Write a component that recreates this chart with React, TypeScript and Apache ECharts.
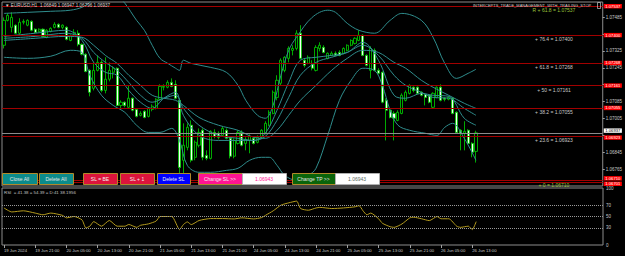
import React, { useEffect, useRef } from "react";
import * as echarts from "echarts";

// ---------- data ----------
const SLOT_COUNT = 154; // bars + empty right shift area
const TICK_STEP = 8;
const timeTickLabels = [
  "19 Jun 2024", "19 Jun 21:00", "20 Jun 05:00", "20 Jun 13:00", "20 Jun 21:00",
  "21 Jun 05:00", "21 Jun 13:00", "21 Jun 21:00", "24 Jun 05:00", "24 Jun 13:00",
  "24 Jun 21:00", "25 Jun 05:00", "25 Jun 13:00", "25 Jun 21:00", "26 Jun 05:00",
  "26 Jun 13:00",
];

// [open, close, low, high]
const candles = [
  [1.07352, 1.0747, 1.07337, 1.07484], [1.0747, 1.07494, 1.07465, 1.07503], [1.07437, 1.07484, 1.07413, 1.07508],
  [1.07447, 1.07409, 1.07404, 1.07451], [1.07409, 1.07461, 1.07404, 1.0748], [1.07461, 1.07465, 1.07451, 1.07475],
  [1.07447, 1.0747, 1.07442, 1.07475], [1.07465, 1.07423, 1.07418, 1.0747], [1.07428, 1.07413, 1.07409, 1.07432],
  [1.07418, 1.07428, 1.07413, 1.07432], [1.07428, 1.07394, 1.0739, 1.07432], [1.0739, 1.07423, 1.07385, 1.07428],
  [1.07418, 1.07432, 1.07413, 1.07437], [1.07437, 1.07451, 1.07432, 1.07461], [1.07451, 1.07437, 1.07432, 1.07456],
  [1.07437, 1.07447, 1.07428, 1.07451], [1.07437, 1.0738, 1.07375, 1.07442], [1.07375, 1.07399, 1.07371, 1.07404],
  [1.07399, 1.07413, 1.07394, 1.07428], [1.07409, 1.07356, 1.07347, 1.07423], [1.07356, 1.07309, 1.07304, 1.07361],
  [1.07309, 1.07228, 1.07224, 1.07314], [1.07233, 1.07129, 1.0711, 1.07238], [1.07148, 1.07233, 1.07138, 1.07271],
  [1.07233, 1.07271, 1.07228, 1.07304], [1.07271, 1.07138, 1.07129, 1.07281], [1.07138, 1.07191, 1.07124, 1.07295],
  [1.07191, 1.07233, 1.07181, 1.07271], [1.07224, 1.07243, 1.07195, 1.07252], [1.07243, 1.07067, 1.07063, 1.07247],
  [1.07067, 1.07082, 1.07048, 1.07091], [1.07082, 1.07067, 1.07058, 1.07086], [1.07058, 1.07101, 1.07053, 1.07162],
  [1.07101, 1.07044, 1.07039, 1.07105], [1.07048, 1.07015, 1.0701, 1.07053], [1.0702, 1.07029, 1.07015, 1.07039],
  [1.07039, 1.0701, 1.07006, 1.07044], [1.07015, 1.07053, 1.0701, 1.07058], [1.07048, 1.07063, 1.07039, 1.07072],
  [1.07053, 1.07096, 1.07048, 1.07101], [1.07096, 1.07157, 1.07091, 1.07167], [1.07153, 1.07157, 1.07138, 1.07167],
  [1.07153, 1.07176, 1.07148, 1.07186], [1.07176, 1.07157, 1.07153, 1.07195], [1.07167, 1.07101, 1.07096, 1.07186],
  [1.07091, 1.06773, 1.06735, 1.07101], [1.06807, 1.06878, 1.06735, 1.06982], [1.06868, 1.06963, 1.06854, 1.06982],
  [1.06973, 1.06807, 1.06797, 1.06996], [1.06821, 1.06892, 1.06807, 1.06901], [1.06878, 1.06939, 1.06868, 1.06958],
  [1.06949, 1.06821, 1.06807, 1.06958], [1.0683, 1.06816, 1.06807, 1.06854], [1.06816, 1.06944, 1.06811, 1.06949],
  [1.06939, 1.0692, 1.06911, 1.06954], [1.06935, 1.06916, 1.06906, 1.06944], [1.06925, 1.06958, 1.0692, 1.06968],
  [1.06949, 1.06911, 1.06906, 1.06958], [1.06911, 1.06826, 1.06816, 1.0692], [1.06826, 1.06901, 1.06816, 1.06911],
  [1.06887, 1.06939, 1.06882, 1.06949], [1.06939, 1.06878, 1.06873, 1.06949], [1.06887, 1.06906, 1.06854, 1.06916],
  [1.06901, 1.0692, 1.0684, 1.0693], [1.06911, 1.06887, 1.06882, 1.0692], [1.06892, 1.06916, 1.06887, 1.06925],
  [1.06916, 1.06949, 1.06911, 1.06954], [1.06935, 1.06982, 1.0693, 1.06992], [1.06973, 1.07034, 1.06968, 1.07044],
  [1.07029, 1.07129, 1.07025, 1.07138], [1.07105, 1.07186, 1.07091, 1.0721], [1.07172, 1.07281, 1.07162, 1.0729],
  [1.07233, 1.07295, 1.07224, 1.073], [1.0729, 1.07337, 1.07271, 1.07347], [1.07328, 1.07337, 1.07304, 1.07352],
  [1.07337, 1.07409, 1.07328, 1.07423], [1.07409, 1.0729, 1.07285, 1.07447], [1.07281, 1.07257, 1.07247, 1.0729],
  [1.07266, 1.07295, 1.07262, 1.07304], [1.07266, 1.07243, 1.07233, 1.07281], [1.07233, 1.07342, 1.07228, 1.07352],
  [1.07337, 1.07352, 1.07323, 1.07366], [1.07342, 1.07318, 1.07314, 1.07352], [1.0729, 1.07314, 1.07285, 1.07318],
  [1.07304, 1.07314, 1.073, 1.07323], [1.07314, 1.07304, 1.073, 1.07323], [1.07318, 1.07304, 1.073, 1.07328],
  [1.07314, 1.07337, 1.07309, 1.07342], [1.07328, 1.07352, 1.07323, 1.07356], [1.07352, 1.07375, 1.07347, 1.0738],
  [1.07361, 1.07385, 1.07356, 1.0739], [1.07375, 1.07399, 1.07371, 1.07423], [1.07399, 1.07304, 1.073, 1.07404],
  [1.07304, 1.07257, 1.07252, 1.07309], [1.07233, 1.07337, 1.07195, 1.07347], [1.07328, 1.07233, 1.07228, 1.07337],
  [1.07233, 1.07219, 1.07214, 1.07243], [1.07224, 1.07082, 1.07077, 1.07228], [1.07091, 1.07044, 1.06901, 1.07101],
  [1.07044, 1.0701, 1.07006, 1.07053], [1.07029, 1.07006, 1.06901, 1.07039], [1.06996, 1.07034, 1.06992, 1.07044],
  [1.07029, 1.07115, 1.07025, 1.07124], [1.07091, 1.07129, 1.07086, 1.07138], [1.07124, 1.07162, 1.07119, 1.07167],
  [1.07153, 1.07138, 1.07129, 1.07157], [1.07153, 1.07124, 1.07119, 1.07157], [1.07129, 1.07115, 1.0711, 1.07134],
  [1.07119, 1.07105, 1.07067, 1.07124], [1.07115, 1.07082, 1.07077, 1.07119], [1.07058, 1.07124, 1.07053, 1.07129],
  [1.07105, 1.07153, 1.07101, 1.07157], [1.07153, 1.07091, 1.07086, 1.07167], [1.07101, 1.07096, 1.07086, 1.07105],
  [1.07096, 1.07105, 1.07091, 1.0711], [1.07101, 1.07029, 1.07025, 1.07105], [1.07034, 1.06939, 1.06935, 1.07039],
  [1.06949, 1.06935, 1.06854, 1.06954], [1.06935, 1.06944, 1.06854, 1.06992], [1.06949, 1.06887, 1.06882, 1.06954],
  [1.06887, 1.06845, 1.06821, 1.06892], [1.06849, 1.06937, 1.06796, 1.06947],
];

// indicator lines, [bar index, price]
const upperBand = [
  [0, 1.07503], [6, 1.07508], [12, 1.07513], [17, 1.07518], [20, 1.07532], [22, 1.07556], [24, 1.07603],
  [27, 1.07622], [29, 1.07589], [31, 1.07551], [34, 1.0747], [36, 1.07423], [38, 1.07352], [40, 1.0729],
  [42, 1.07266], [44, 1.07243], [45, 1.07233], [46, 1.07281], [48, 1.07266], [53, 1.07247], [57, 1.07224],
  [60, 1.07162], [62, 1.07091], [65, 1.0702], [67, 1.07006], [69, 1.07067], [71, 1.0721], [73, 1.07328],
  [75, 1.0739], [79, 1.07484], [83, 1.07518], [85, 1.07508], [88, 1.07456], [91, 1.07423], [95, 1.07409],
  [99, 1.0747], [102, 1.07503], [107, 1.0747], [110, 1.0739], [113, 1.07266], [116, 1.07195], [119, 1.07219],
  [121, 1.07238],
];
const lowerBand = [
  [0, 1.07295], [6, 1.0729], [12, 1.073], [17, 1.07328], [20, 1.07318], [22, 1.0721], [25, 1.07115],
  [28, 1.07067], [31, 1.07034], [34, 1.06973], [37, 1.06939], [40, 1.06939], [43, 1.06958], [45, 1.06901],
  [47, 1.06783], [50, 1.0675], [53, 1.0675], [57, 1.06759], [60, 1.06769], [63, 1.06807], [66, 1.06821],
  [68, 1.06821], [70, 1.06783], [72, 1.06735], [75, 1.06712], [78, 1.06735], [80, 1.06769], [83, 1.06925],
  [86, 1.07091], [89, 1.07186], [92, 1.07243], [95, 1.07233], [97, 1.07162], [99, 1.07044], [101, 1.06973],
  [104, 1.06949], [108, 1.06935], [111, 1.06925], [113, 1.06963], [115, 1.06982], [118, 1.06911], [121, 1.06807],
];
const middleBand = [
  [0, 1.07375], [8, 1.07385], [16, 1.07394], [20, 1.0739], [23, 1.07352], [26, 1.07304], [29, 1.07266],
  [32, 1.0721], [35, 1.07162], [38, 1.07115], [41, 1.07101], [44, 1.07091], [46, 1.07067], [50, 1.0701],
  [55, 1.06973], [60, 1.06949], [64, 1.06916], [67, 1.06911], [70, 1.06949], [73, 1.0702], [76, 1.07091],
  [80, 1.07162], [84, 1.07233], [88, 1.0729], [92, 1.07328], [96, 1.07318], [100, 1.07271], [103, 1.07243],
  [107, 1.07186], [110, 1.07153], [114, 1.07115], [118, 1.07077], [121, 1.07053],
];
const maMedium = [
  [0, 1.07385], [8, 1.07394], [16, 1.07409], [20, 1.07385], [23, 1.07318], [26, 1.07271], [29, 1.07233],
  [32, 1.07176], [35, 1.07115], [38, 1.07082], [41, 1.07101], [44, 1.07115], [46, 1.07053], [50, 1.06973],
  [55, 1.06925], [60, 1.06911], [64, 1.06901], [67, 1.0692], [70, 1.06996], [73, 1.07105], [76, 1.0721],
  [80, 1.07271], [84, 1.07295], [88, 1.07318], [92, 1.07352], [96, 1.07304], [100, 1.0721], [103, 1.07162],
  [107, 1.07129], [110, 1.07105], [114, 1.07101], [118, 1.07053], [121, 1.0702],
];
const maFast = [
  [0, 1.07394], [8, 1.07409], [16, 1.07423], [20, 1.07375], [23, 1.07271], [26, 1.07224], [29, 1.0721],
  [32, 1.07138], [35, 1.07082], [38, 1.07053], [41, 1.07101], [44, 1.07129], [46, 1.0702], [50, 1.06925],
  [55, 1.06901], [60, 1.06901], [64, 1.06901], [67, 1.06935], [70, 1.07044], [73, 1.07176], [76, 1.07281],
  [80, 1.07295], [84, 1.07304], [88, 1.07318], [92, 1.07366], [96, 1.07281], [100, 1.07115], [103, 1.07101],
  [107, 1.07124], [110, 1.07115], [114, 1.0711], [118, 1.07006], [121, 1.06973],
];

const rsiPoints = [
  [0, 65], [2, 58], [5, 60], [8, 56], [10, 53], [12, 56], [15, 52], [16, 47.6], [18, 50], [20, 44], [21, 30],
  [22, 33], [23, 41], [25, 33], [27, 43], [29, 33], [31, 33], [32, 36], [34, 31], [35, 34.6], [37, 37], [39, 42],
  [40, 50], [43, 50], [45, 27], [46, 36], [47, 40.5], [48, 35.8], [50, 43], [53, 46.4], [56, 46.4], [59, 45.8],
  [61, 47.6], [64, 45.8], [66, 48], [67, 52], [69, 60], [71, 70], [73, 74], [75, 77], [76, 64], [78, 61],
  [80, 65], [81, 66], [84, 64], [87, 65], [90, 67], [91, 69], [92, 60], [93, 53], [94, 56], [96, 46], [97, 38],
  [99, 32], [100, 31], [102, 37], [104, 47.6], [105, 48.7], [107, 46], [109, 42.8], [111, 50], [112, 46],
  [114, 46], [116, 33], [117, 31], [119, 33], [120, 27], [121, 41],
];

const fibLevels = [1.07537, 1.074, 1.07268, 1.07161, 1.07055, 1.06923, 1.0671];
const fibTexts = [
  "R + 61.8 = 1.07537", "+ 76.4 = 1.07400", "+ 61.8 = 1.07268", "+ 50 = 1.07161",
  "+ 38.2 = 1.07055", "+ 23.6 = 1.06923", "+ 0 = 1.06710",
];
const extraRedLevel = 1.06701;
const bidPrice = 1.06937;
const PRICE_MIN = 1.06685;
const PRICE_MAX = 1.07557;
const PRICE_STEP = 0.0008;
const priceTickLabels = [1.06765, 1.06845, 1.07005, 1.07085, 1.07245, 1.07325, 1.07485];
const rsiLevels = [30, 50, 70];
const rsiTickLabels = [0, 30, 50, 70, 100];
const headerText = "\u25BC EURUSD,H1  1.06849 1.06947 1.06796 1.06937";
const rsiHeader = "RSI  = 41.38 = 54.39 = D:41 38.1956";
const eaName = "INTERCEPTS_TRADE_MANAGEMENT_WITH_TRAILING_STOP";

const FONT = "'Liberation Sans', Arial, sans-serif";

export default function App() {
  const ref = useRef<HTMLDivElement>(null);
  useEffect(() => {
    if (!ref.current) return;
    const chart = echarts.init(ref.current, undefined, { renderer: "svg" });
    const categories = Array.from({ length: SLOT_COUNT }, (_, i) => String(i));
    const lastTickIdx = (timeTickLabels.length - 1) * TICK_STEP;
    const tickShown = (idx: number) => idx % TICK_STEP === 0 && idx <= lastTickIdx;
    const bandColor = "#2f8d8d";
    const lineSeries = (data: number[][], extra: any = {}) => ({
      type: "line",
      xAxisIndex: 0,
      yAxisIndex: 0,
      data,
      smooth: 0.35,
      symbol: "none",
      showSymbol: false,
      silent: true,
      z: 4,
      lineStyle: { color: bandColor, width: 1 },
      ...extra,
    });

    const buttons = [
      { t: "Close All", x: 2, w: 35, fill: "#0b8b8b", c: "#e6e6e6", s: "#b08a2a" },
      { t: "Delete All", x: 39, w: 34, fill: "#0b8b8b", c: "#e6e6e6", s: "#b08a2a" },
      { t: "SL = BE", x: 83, w: 34, fill: "#dc143c", c: "#f0f0f0", s: "#b08a2a" },
      { t: "SL + 1", x: 120, w: 34, fill: "#dc143c", c: "#f0f0f0", s: "#b08a2a" },
      { t: "Delete SL", x: 157, w: 33, fill: "#0000ff", c: "#f0f0f0", s: "#b08a2a" },
      { t: "Change SL >>", x: 198, w: 44, fill: "#ff1493", c: "#f0f0f0", s: "#b08a2a" },
      { t: "1.06943", x: 242, w: 44, fill: "#ffffff", c: "#ff1493", s: "#b0b0b0" },
      { t: "Change TP >>", x: 292, w: 43, fill: "#0a640a", c: "#e6e6e6", s: "#b08a2a" },
      { t: "1.06943", x: 335, w: 44, fill: "#ffffff", c: "#5a6a5a", s: "#b0b0b0" },
    ];
    const BY = 173;
    const BH = 11;
    const graphic: any[] = [];
    buttons.forEach((b) => {
      graphic.push({
        type: "rect",
        z: 100,
        shape: { x: b.x + 0.5, y: BY + 0.5, width: b.w, height: BH },
        style: { fill: b.fill, stroke: b.s, lineWidth: 1 },
      });
      graphic.push({
        type: "text",
        z: 101,
        x: b.x + b.w / 2,
        y: BY + BH / 2 + 0.5,
        style: { text: b.t, fill: b.c, fontSize: 5, fontFamily: FONT, align: "center", verticalAlign: "middle" },
      });
    });
    graphic.push({
      type: "text", z: 101, x: 5, y: 5,
      style: { text: headerText, fill: "#d0d0d0", fontSize: 4.6, fontFamily: FONT, verticalAlign: "middle" },
    });
    graphic.push({
      type: "text", z: 101, x: 473, y: 5,
      style: { text: eaName, fill: "#c8c8c8", fontSize: 4.0, fontFamily: FONT, verticalAlign: "middle" },
    });
    graphic.push({
      type: "rect", z: 101, shape: { x: 597.5, y: 2.5, width: 3, height: 6 },
      style: { fill: "none", stroke: "#c8c8c8", lineWidth: 0.7 },
    });
    graphic.push({
      type: "text", z: 101, x: 4, y: 192,
      style: { text: rsiHeader, fill: "#c0c0c0", fontSize: 4.4, fontFamily: FONT, verticalAlign: "middle" },
    });

    const tagLabel = (text: string, bg: string, fg: string, dy = 0) => ({
      show: true, position: "end", distance: 1, formatter: text, color: fg, offset: [0, dy],
      backgroundColor: bg, fontSize: 4.2, fontFamily: FONT, padding: [0, 1.5], lineHeight: 4.4,
    });
    // label nudges keep stacked price tags apart, like the terminal does
    const tagNudge = (v: number) => (v === fibLevels[5] ? 1.8 : v === fibLevels[6] ? -2.4 : v === extraRedLevel ? 1.2 : 0);
    const redLevels = [...fibLevels, extraRedLevel];
    const option: any = {
      animation: false,
      backgroundColor: "#000000",
      textStyle: { fontFamily: FONT },
      grid: [
        { left: 2, top: 2, width: 601, height: 184, show: true, borderColor: "#8c8c8c", borderWidth: 1, backgroundColor: "transparent" },
        { left: 2, top: 188, width: 601, height: 57, show: true, borderColor: "#8c8c8c", borderWidth: 1, backgroundColor: "transparent" },
      ],
      xAxis: [
        {
          type: "category", gridIndex: 0, data: categories, boundaryGap: true,
          axisLine: { show: false }, axisTick: { show: false }, axisLabel: { show: false }, splitLine: { show: false },
        },
        {
          type: "category", gridIndex: 1, data: categories, boundaryGap: true,
          axisLine: { show: false },
          axisTick: { show: true, alignWithLabel: true, interval: tickShown, length: 3, lineStyle: { color: "#a0a0a0" } },
          axisLabel: {
            show: true, interval: tickShown, align: "left", margin: 3, color: "#c8c8c8", fontSize: 4.2, fontFamily: FONT,
            formatter: (_v: string, idx: number) => timeTickLabels[idx / TICK_STEP] ?? "",
          },
          splitLine: { show: false },
        },
      ],
      yAxis: [
        {
          type: "value", gridIndex: 0, position: "right", min: PRICE_MIN, max: PRICE_MAX, interval: PRICE_STEP,
          axisLine: { show: false }, splitLine: { show: false },
          axisTick: { show: true, length: 2, lineStyle: { color: "#a0a0a0" } },
          axisLabel: {
            margin: 3, color: "#c8c8c8", fontSize: 4.5, fontFamily: FONT, showMinLabel: false, showMaxLabel: false,
            formatter: (v: number) => (priceTickLabels.some((p) => Math.abs(p - v) < 1e-7) ? v.toFixed(5) : ""),
          },
        },
        {
          type: "value", gridIndex: 1, position: "right", min: 0, max: 100, interval: 10,
          axisLine: { show: false }, splitLine: { show: false }, axisTick: { show: false },
          axisLabel: {
            margin: 3, color: "#c8c8c8", fontSize: 4.5, fontFamily: FONT, padding: [2, 0, 0, 0],
            formatter: (v: number) => (rsiTickLabels.includes(Math.round(v)) ? String(Math.round(v)) : ""),
          },
        },
      ],
      series: [
        {
          type: "candlestick", xAxisIndex: 0, yAxisIndex: 0, data: candles, barWidth: 2.6, z: 3, silent: true,
          itemStyle: { color: "#000000", color0: "#f2fff2", borderColor: "#00d400", borderColor0: "#00d400", borderWidth: 0.8 },
        },
        lineSeries(upperBand, {
          markPoint: {
            silent: true, animation: false, symbol: "circle", symbolSize: 1, itemStyle: { color: "rgba(0,0,0,0)" },
            data: fibLevels.map((v, i) => ({
              coord: [141, v],
              label: {
                show: true, position: "bottom", distance: 1, formatter: fibTexts[i], fontSize: 5, fontFamily: FONT,
                color: i === 0 || i === fibLevels.length - 1 ? "#9cc43c" : "#c8c8c8",
              },
            })),
          },
        }),
        lineSeries(lowerBand, {
          markLine: {
            silent: true, symbol: ["none", "none"], animation: false, precision: 6,
            data: [
              {
                yAxis: bidPrice,
                lineStyle: { color: "#8c8c8c", width: 1, type: "solid" },
                label: tagLabel(bidPrice.toFixed(5), "#ffffff", "#000000", -2.2),
              },
              ...redLevels.map((v) => ({
                yAxis: v,
                lineStyle: { color: "#a20000", width: 1, type: "solid" },
                label: tagLabel(v.toFixed(5), "#ff0000", "#ffffff", tagNudge(v)),
              })),
            ],
          },
        }),
        lineSeries(middleBand),
        lineSeries(maMedium),
        lineSeries(maFast),
        {
          type: "line", xAxisIndex: 1, yAxisIndex: 1, data: rsiPoints, symbol: "none", showSymbol: false,
          smooth: 0.2, silent: true, lineStyle: { color: "#b39a1e", width: 1 },
          markLine: {
            silent: true, symbol: ["none", "none"], animation: false, label: { show: false },
            lineStyle: { color: "#9a9a9a", type: "dotted", width: 1 },
            data: rsiLevels.map((v) => ({ yAxis: v })),
          },
        },
      ],
      graphic,
    };
    chart.setOption(option);
    return () => chart.dispose();
  }, []);
  return (
    <div
      ref={ref}
      style={{ position: "fixed", left: 0, top: 0, width: 625, height: 256, background: "#000000" }}
    />
  );
}
